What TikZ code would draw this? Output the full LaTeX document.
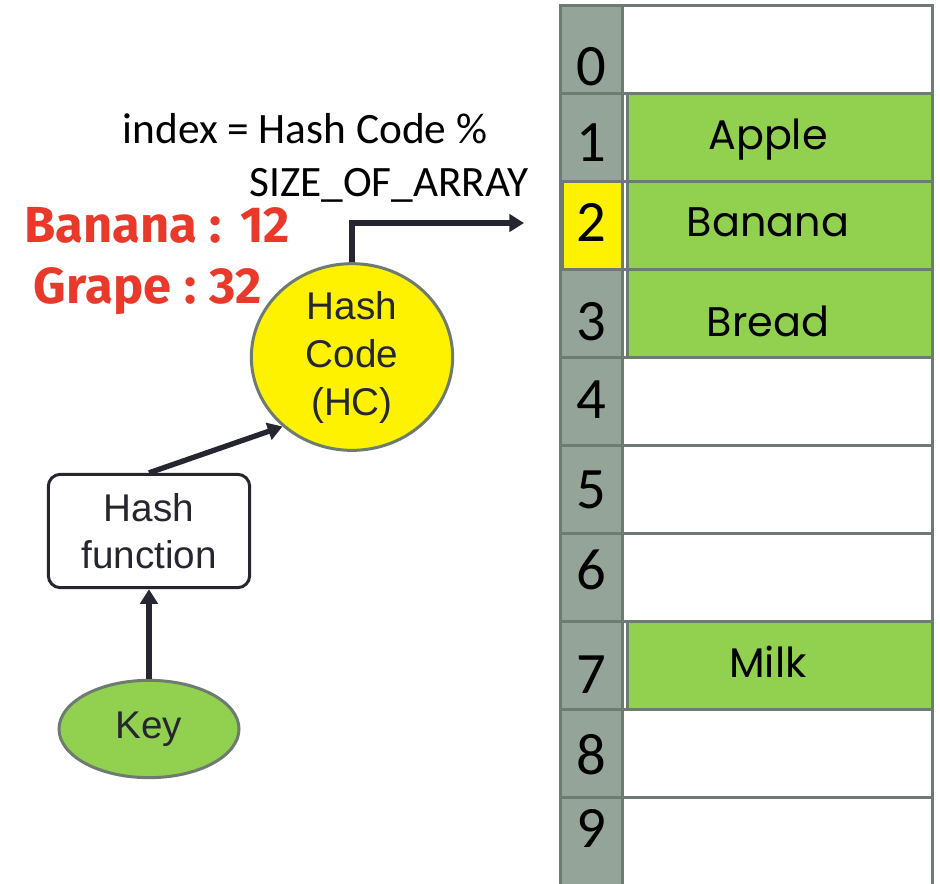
\documentclass[tikz,border=0pt]{standalone}
\usepackage{fontspec}
\setmainfont{Liberation Sans}
\newfontfamily\calibri{Carlito}
\newfontfamily\comic{Poppins}
\newfontfamily\hand{Fira Sans}
\usetikzlibrary{shapes.geometric,arrows.meta}
\definecolor{cellgreen}{RGB}{146,208,80}
\definecolor{cellgray}{RGB}{149,164,152}
\definecolor{cellline}{RGB}{110,123,113}
\definecolor{arrowdark}{RGB}{38,38,48}
\definecolor{handred}{RGB}{233,57,42}

\begin{document}
\begin{tikzpicture}[x=0.75pt,y=-0.75pt,>={Triangle[length=11pt,width=13pt]},
  cell/.style={draw=cellline,line width=2.25pt},
  digit/.style={font=\calibri\fontsize{44}{44}\selectfont},
  item/.style={font=\comic\fontsize{31}{31}\selectfont},
  conn/.style={draw=arrowdark,line width=4pt,->},
  hcnode/.style={ellipse,draw=cellline,line width=2.25pt,fill=yellow,minimum width=151pt,minimum height=130pt,align=center,inner sep=0pt,text=arrowdark,font=\fontsize{29}{36}\selectfont},
  hfnode/.style={rectangle,rounded corners=9pt,draw=arrowdark,line width=2.25pt,minimum width=151pt,minimum height=85pt,align=center,text=arrowdark,font=\fontsize{29}{35}\selectfont},
  keynode/.style={ellipse,draw=cellline,line width=2.25pt,fill=cellgreen,minimum width=135pt,minimum height=73pt,text=arrowdark,font=\fontsize{29}{35}\selectfont},
  formula/.style={anchor=base,font=\calibri\fontsize{32.5}{36}\selectfont},
  handnote/.style={anchor=base,text=handred,font=\hand\bfseries\fontsize{38}{40}\selectfont}]
  \useasboundingbox (0,0) rectangle (940,883);

  \foreach \i in {0,...,9} {
    \draw[cell,fill=cellgray] (560,5+88*\i) rectangle (622,93+88*\i);
    \draw[cell,fill=white] (622,5+88*\i) rectangle (932,93+88*\i);
  }
  \draw[cell,fill=yellow] (562,181) rectangle (622,269);
  \foreach \i/\y in {0/67,1/143,2/222,3/322,4/400,5/490,6/570,7/675,8/755,9/828}
    \node[digit] (n\i) at (591,\y) {\i};
  \foreach \i/\y/\name in {1/140/Apple,2/222/Banana,3/321/Bread,7/662/Milk} {
    \draw[cell,fill=cellgreen] (627,5+88*\i) rectangle (932,93+88*\i);
    \node[item] (v\i) at (768,\y) {\name};
  }

  \node[formula] (f1) at (305,143) {index = Hash Code \%};
  \node[formula] (f2) at (389,196) {SIZE\_OF\_ARRAY};
  \node[handnote] (banana) at (157,242) {Banana\hspace{9pt}:\hspace{14pt}12};
  \node[handnote] (grape) at (148,303) {Grape\hspace{10pt}:\hspace{10pt}32};

  \node[hcnode] (hc) at (352,357) {Hash\\Code\\(HC)};
  \node[hfnode] (hf) at (149,531) {Hash\\function};
  \node[keynode] (key) at (149,729) {Key};
  \coordinate (slot) at (524,223);

  \draw[conn] (key) -- (hf);
  \draw[conn] (hf.north) -- (hc.225);
  \draw[conn] (hc.north) |- (slot);
\end{tikzpicture}
\end{document}
